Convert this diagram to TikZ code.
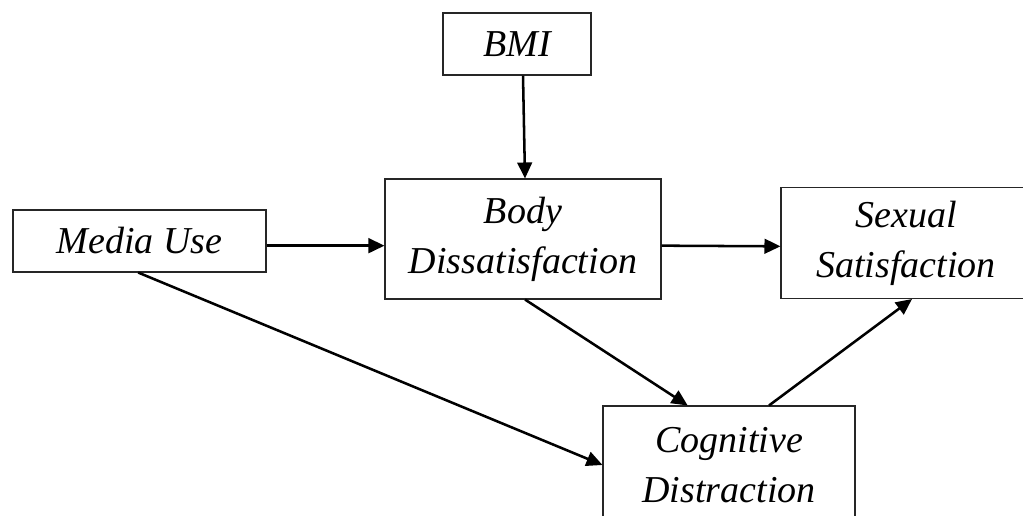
\documentclass[tikz,border=0pt]{standalone}
\usepackage{fontspec}
\setmainfont{Liberation Serif}
\usetikzlibrary{arrows.meta}
\begin{document}
\begin{tikzpicture}[x=0.75pt,y=-0.75pt,
  box/.style={draw=black!85,line width=0.8pt,rectangle,inner sep=0pt,align=center,
    font=\fontsize{28.5}{37.5}\selectfont\itshape},
  conn/.style={line width=1.9pt,-{Triangle[length=12pt,width=11pt]}}]
\useasboundingbox (0,0) rectangle (1023,516);
\clip (0,0) rectangle (1023,516);
\node[box,minimum width=148*0.75pt,minimum height=62*0.75pt] (bmi) at (517,44) {BMI};
\node[box,minimum width=253*0.75pt,minimum height=62*0.75pt] (media) at (139.5,241) {Media Use};
\node[box,minimum width=276*0.75pt,minimum height=120*0.75pt] (body) at (523,239) {Body\\Dissatisfaction};
\node[box,minimum width=250*0.75pt,minimum height=111*0.75pt] (sexual) at (906,243) {Sexual\\Satisfaction};
\node[box,minimum width=252*0.75pt,minimum height=118*0.75pt] (cog) at (729,465) {Cognitive\\Distraction};
\draw[conn] ([xshift=4.5pt]bmi.south) -- ([xshift=1.5pt]body.north);
\draw[conn] ([yshift=-3.5pt]media.east) -- ([yshift=-5pt]body.west);
\draw[conn] ([yshift=-5pt]body.east) -- ([yshift=-2.5pt]sexual.west);
\draw[conn] ([xshift=1.5pt]body.south) -- ([xshift=-31pt]cog.north);
\draw[conn] ([xshift=-1pt]media.south) -- ([yshift=0pt]cog.west);
\draw[conn] ([xshift=30pt]cog.north) -- ([xshift=4.5pt]sexual.south);
\end{tikzpicture}
\end{document}
